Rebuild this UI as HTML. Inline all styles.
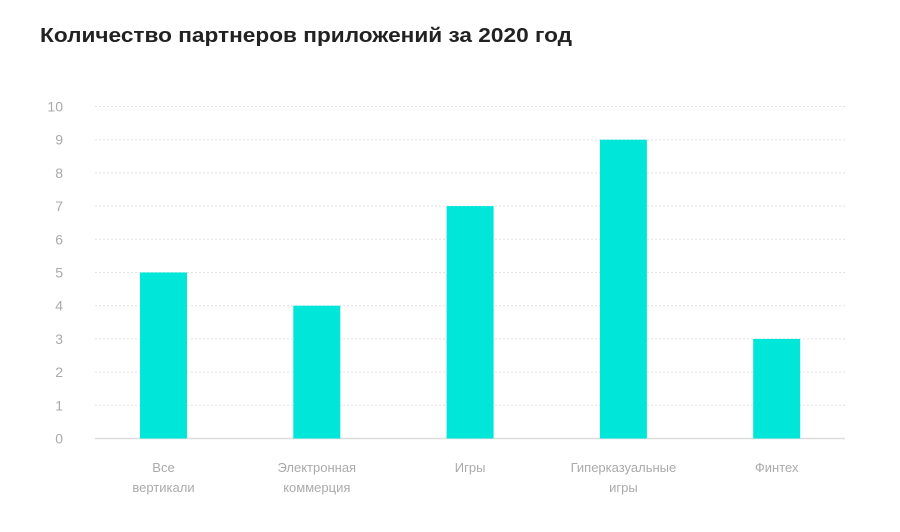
<!DOCTYPE html>
<html><head><meta charset="utf-8"><style>
body{margin:0;background:#fff;width:900px;height:527px;overflow:hidden;font-family:"Liberation Sans",sans-serif}
</style></head><body>
<svg width="900" height="527">
<text x="40" y="42" font-size="20" font-weight="600" fill="#222" textLength="532" lengthAdjust="spacingAndGlyphs">Количество партнеров приложений за 2020 год</text>
<g id="grid"></g>
<g id="bars"></g>
<g id="xl"></g>
</svg>
<script>
const categories=[["Все","вертикали"],["Электронная","коммерция"],["Игры"],["Гиперказуальные","игры"],["Финтех"]];
const values=[5,4,7,9,3];
const yTicks=[0,1,2,3,4,5,6,7,8,9,10];
const ns="http://www.w3.org/2000/svg";
const y0=438.5,unit=33.2,x0=95,x1=845;
const yS=v=>y0-v*unit;
const xS=i=>163.5+i*153.3;
const g=document.getElementById('grid'),b=document.getElementById('bars'),xl=document.getElementById('xl');
function mk(t,a,p){const e=document.createElementNS(ns,t);for(const k in a)e.setAttribute(k,a[k]);p.appendChild(e);return e;}
yTicks.forEach(v=>{
 const l=mk('line',{x1:x0,x2:x1,y1:yS(v),y2:yS(v),stroke:v===0?'#ddd':'#e2e2e2','stroke-width':v===0?1.5:1,'stroke-dasharray':v===0?'':'2,2'},g);
 
 
 const t=mk('text',{x:63,y:yS(v)+5,'text-anchor':'end','font-size':14,fill:'#aaa'},g);
 t.textContent=v;
 
 
});
values.forEach((v,i)=>{
 const r=mk('rect',{x:xS(i)-23.5,y:yS(v),width:47,height:v*unit,fill:'#00e6d9'},b);
 
 
 categories[i].forEach((s,j)=>{
  const t=mk('text',{x:xS(i),y:472+j*20,'text-anchor':'middle','font-size':13,fill:'#aaa'},xl);
  t.textContent=s;
  
  
 });
});
</script>
</body></html>
